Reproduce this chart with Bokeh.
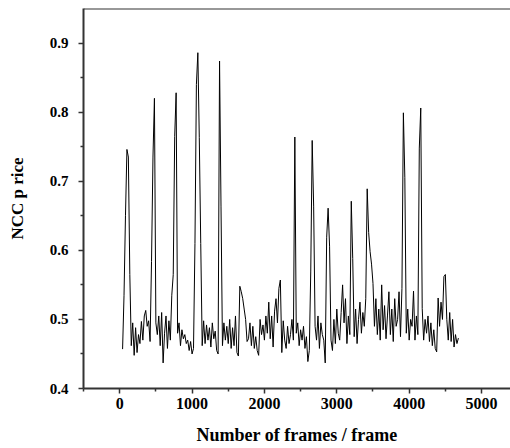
from bokeh.plotting import figure
from bokeh.models import FixedTicker, Span
from bokeh.embed import file_html
from bokeh.resources import INLINE

# NCC price per frame, sampled every 20 frames starting at frame 40
frame_start = 40
frame_step = 20
ncc = [
    0.457, 0.535, 0.650, 0.746, 0.735, 0.565, 0.462, 0.495, 0.448, 0.488,
    0.452, 0.478, 0.465, 0.497, 0.470, 0.505, 0.513, 0.490, 0.498, 0.468,
    0.584, 0.735, 0.820, 0.495, 0.478, 0.505, 0.462, 0.510, 0.437, 0.480,
    0.505, 0.458, 0.498, 0.470, 0.535, 0.565, 0.765, 0.828, 0.480, 0.495,
    0.462, 0.485, 0.472, 0.478, 0.465, 0.470, 0.455, 0.468, 0.450, 0.458,
    0.610, 0.840, 0.886, 0.763, 0.610, 0.462, 0.498, 0.465, 0.492, 0.470,
    0.488, 0.460, 0.495, 0.472, 0.483, 0.455, 0.450, 0.874, 0.664, 0.462,
    0.495, 0.470, 0.490, 0.465, 0.500, 0.458, 0.488, 0.462, 0.505, 0.452,
    0.447, 0.548, 0.540, 0.530, 0.515, 0.500, 0.468, 0.472, 0.495, 0.462,
    0.490, 0.458, 0.475, 0.455, 0.448, 0.500, 0.478, 0.492, 0.470, 0.505,
    0.480, 0.525, 0.472, 0.505, 0.460, 0.512, 0.530, 0.495, 0.545, 0.557,
    0.452, 0.498, 0.470, 0.458, 0.490, 0.465, 0.478, 0.500, 0.470, 0.764,
    0.480, 0.495, 0.462, 0.485, 0.470, 0.490, 0.458, 0.475, 0.439, 0.455,
    0.570, 0.759, 0.664, 0.490, 0.470, 0.505, 0.458, 0.495, 0.478, 0.470,
    0.437, 0.619, 0.661, 0.606, 0.470, 0.455, 0.500, 0.465, 0.515, 0.480,
    0.470, 0.510, 0.550, 0.495, 0.530, 0.465, 0.505, 0.478, 0.671, 0.588,
    0.475, 0.515, 0.465, 0.500, 0.525, 0.480, 0.510, 0.490, 0.530, 0.689,
    0.626, 0.598, 0.580, 0.552, 0.490, 0.530, 0.478, 0.515, 0.470, 0.550,
    0.485, 0.520, 0.472, 0.505, 0.540, 0.478, 0.515, 0.468, 0.530, 0.490,
    0.500, 0.540, 0.475, 0.545, 0.799, 0.705, 0.480, 0.515, 0.470, 0.500,
    0.490, 0.541, 0.470, 0.505, 0.478, 0.748, 0.806, 0.516, 0.470, 0.500,
    0.480, 0.505, 0.468, 0.495, 0.462, 0.485, 0.458, 0.453, 0.531, 0.490,
    0.525, 0.500, 0.562, 0.565, 0.500, 0.470, 0.510, 0.468, 0.500, 0.460,
    0.478, 0.465, 0.473,
]
frames = [frame_start + frame_step * i for i in range(len(ncc))]

x_ticks = [0, 1000, 2000, 3000, 4000, 5000]
x_minor = [-500, 500, 1500, 2500, 3500, 4500]
y_ticks = [0.4, 0.5, 0.6, 0.7, 0.8, 0.9]
y_minor = [0.45, 0.55, 0.65, 0.75, 0.85]

x_label = "Number of frames / frame"
y_label = "NCC p rice"

p = figure(width=510, height=448, output_backend="svg", toolbar_location=None,
           x_range=(-500, 5400), y_range=(0.4, 0.95),
           min_border_left=83, min_border_right=0, min_border_top=8,
           min_border_bottom=60)

p.line(frames, ncc, line_color="black", line_width=1)

p.grid.visible = False
p.outline_line_color = None
p.background_fill_color = "white"
p.border_fill_color = "white"
p.add_layout(Span(location=0.95, dimension="width", line_color="#333333",
                  line_width=2))

p.xaxis.ticker = FixedTicker(ticks=x_ticks, minor_ticks=x_minor)
p.yaxis.ticker = FixedTicker(ticks=y_ticks, minor_ticks=y_minor)

for ax in (p.xaxis[0], p.yaxis[0]):
    ax.axis_line_color = "#333333"
    ax.axis_line_width = 2
    ax.major_tick_line_color = "#333333"
    ax.major_tick_line_width = 1.5
    ax.minor_tick_line_color = "#333333"
    ax.minor_tick_line_width = 1.5
    ax.major_tick_out = 5
    ax.major_tick_in = 0
    ax.minor_tick_out = 3
    ax.minor_tick_in = 0
    ax.major_label_text_font = "Liberation Serif"
    ax.major_label_text_font_style = "bold"
    ax.major_label_text_font_size = "15px"
    ax.major_label_text_color = "black"
    ax.axis_label_text_font = "Liberation Serif"
    ax.axis_label_text_font_style = "bold"
    ax.axis_label_text_color = "black"

p.xaxis.axis_label = x_label
p.yaxis.axis_label = y_label
p.xaxis.major_label_text_font_size = "16px"
p.xaxis.axis_label_text_font_size = "18px"
p.yaxis.axis_label_text_font_size = "17px"
p.xaxis.major_label_standoff = 4
p.yaxis.major_label_standoff = 10
p.xaxis.axis_label_standoff = 13
p.yaxis.axis_label_standoff = 20

open("out.html", "w").write(file_html(p, INLINE))
